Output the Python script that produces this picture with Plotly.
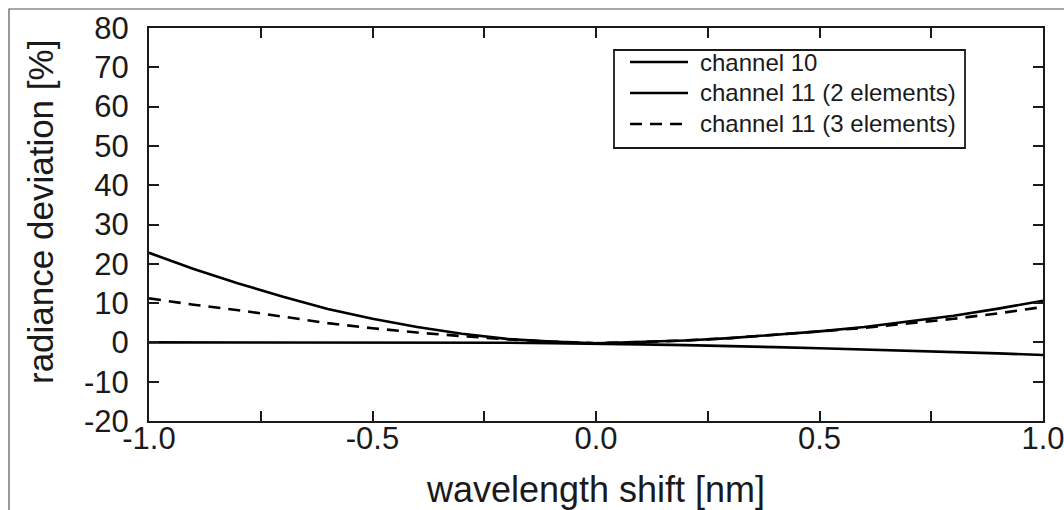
import plotly.graph_objects as go

# wavelength shift grid [nm]
shift_nm = [-1.0, -0.9, -0.8, -0.7, -0.6, -0.5, -0.4, -0.3, -0.2, -0.1, 0.0,
            0.1, 0.2, 0.3, 0.4, 0.5, 0.6, 0.7, 0.8, 0.9, 1.0]

# radiance deviation [%] per channel configuration
channel_10 = [0.0, 0.0, 0.0, 0.0, 0.0, 0.0, 0.0, 0.0, -0.1, -0.2, -0.3,
              -0.5, -0.7, -0.9, -1.2, -1.5, -1.8, -2.1, -2.5, -2.8, -3.2]
channel_11_2el = [22.8, 18.7, 15.0, 11.6, 8.5, 6.0, 3.9, 2.2, 0.9, 0.2, -0.2,
                  0.1, 0.5, 1.1, 1.9, 2.8, 3.9, 5.3, 6.8, 8.6, 10.6]
channel_11_3el = [11.2, 9.6, 8.2, 6.6, 4.9, 3.6, 2.5, 1.6, 0.8, 0.2, -0.2,
                  0.1, 0.5, 1.1, 1.9, 2.8, 3.7, 4.8, 6.0, 7.4, 9.0]

series_names = ["channel 10", "channel 11 (2 elements)", "channel 11 (3 elements)"]

x_tick_vals = [-1.0, -0.75, -0.5, -0.25, 0.0, 0.25, 0.5, 0.75, 1.0]
x_tick_text = ["-1.0", "", "-0.5", "", "0.0", "", "0.5", "", "1.0"]
y_tick_vals = [-20, -10, 0, 10, 20, 30, 40, 50, 60, 70, 80]
y_tick_text = ["-20", "-10", "0", "10", "20", "30", "40", "50", "60", "70", "80"]

FONT = "Liberation Sans, Arial, sans-serif"
INK = "#1a1a1a"
LINE_W = 2.6
DASH = "12px,8px"

# page geometry (px)
W, H = 1064, 510
M_L, M_R, M_T, M_B = 149, 21, 28, 89
PLOT_W = W - M_L - M_R
PLOT_H = H - M_T - M_B


def px_x(px):
    return (px - M_L) / PLOT_W


def px_y(py):
    return (H - M_B - py) / PLOT_H


styles = [dict(color="black", width=LINE_W),
          dict(color="black", width=LINE_W),
          dict(color="black", width=LINE_W, dash=DASH)]
series = [channel_10, channel_11_2el, channel_11_3el]

fig = go.Figure()
for name, vals, style in zip(series_names, series, styles):
    fig.add_trace(go.Scatter(x=shift_nm, y=vals, mode="lines", name=name,
                             line=style, showlegend=False))

axis_common = dict(
    showline=True, linecolor=INK, linewidth=2, mirror="ticks",
    ticks="inside", ticklen=10, tickwidth=1.5, tickcolor=INK,
    showgrid=False, zeroline=False, automargin=False,
    ticklabeloverflow="allow",
    tickfont=dict(family=FONT, size=31, color=INK),
)

fig.update_xaxes(range=[-1.0, 1.0], tickvals=x_tick_vals, ticktext=x_tick_text,
                 ticklabelstandoff=-11,
                 title=dict(text="wavelength shift [nm]", font=dict(family=FONT, size=36, color=INK),
                            standoff=22),
                 **axis_common)
fig.update_yaxes(range=[-20, 80], tickvals=y_tick_vals, ticktext=y_tick_text,
                 ticklabelstandoff=12,
                 **axis_common)

# y-axis caption, set slightly above the plot centre
fig.add_annotation(xref="paper", yref="paper", x=px_x(40), y=px_y(212),
                   xanchor="center", yanchor="middle", showarrow=False, textangle=-90,
                   text="radiance deviation [%]", font=dict(family=FONT, size=35, color=INK))

# outer frame around the whole figure, running off the right and bottom edges
fig.add_shape(type="rect", xref="paper", yref="paper",
              x0=px_x(9), y0=px_y(560), x1=px_x(1120), y1=px_y(9),
              line=dict(color="#555555", width=1.2), fillcolor="rgba(0,0,0,0)", layer="below")

# key box with line samples and labels
fig.add_shape(type="rect", xref="paper", yref="paper",
              x0=px_x(614), y0=px_y(148), x1=px_x(965), y1=px_y(50),
              line=dict(color=INK, width=1.8), fillcolor="white", layer="above")
row_py = [62, 93, 124]
for name, style, py in zip(series_names, styles, row_py):
    fig.add_shape(type="line", xref="paper", yref="paper",
                  x0=px_x(630), x1=px_x(688), y0=px_y(py), y1=px_y(py),
                  line=style, layer="above")
    fig.add_annotation(xref="paper", yref="paper", x=px_x(698), y=px_y(py),
                       xanchor="left", yanchor="middle", showarrow=False,
                       text=name, font=dict(family=FONT, size=24, color=INK))

fig.update_layout(
    width=W, height=H,
    margin=dict(l=M_L, r=M_R, t=M_T, b=M_B),
    paper_bgcolor="white", plot_bgcolor="white",
    font=dict(family=FONT, color=INK),
    showlegend=False,
)

fig.write_html("out.html")
